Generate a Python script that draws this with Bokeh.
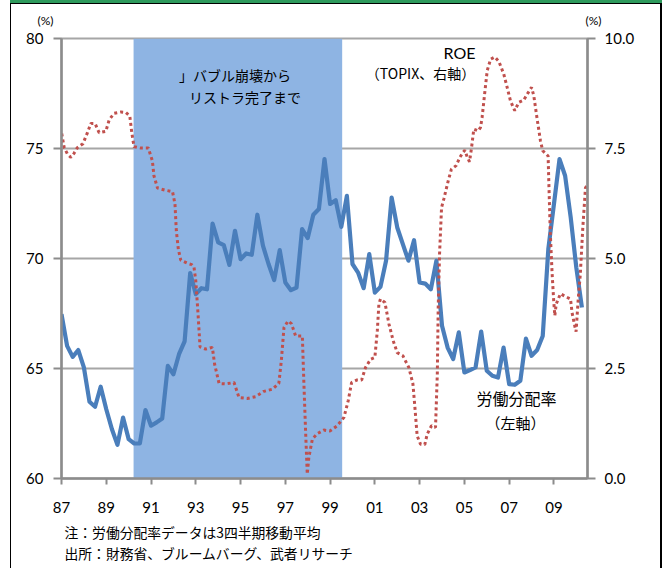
from bokeh.plotting import figure
from bokeh.models import (Range1d, LinearAxis, FixedTicker, PrintfTickFormatter, Label,
                          InlineStyleSheet)
from bokeh.embed import file_html
from bokeh.resources import INLINE

# ---------------- data ----------------
labor_start_year = 1987.0   # first quarter of the series, quarterly steps
labor_share = [
    67.47, 66.03, 65.53, 65.84, 65.05, 63.49, 63.26, 64.17, 63.15, 62.25,
    61.53, 62.77, 61.79, 61.59, 61.59, 63.11, 62.40, 62.55, 62.73, 65.12,
    64.74, 65.65, 66.23, 69.34, 68.38, 68.65, 68.60, 71.59, 70.73, 70.61,
    69.71, 71.26, 69.97, 70.23, 70.17, 71.99, 70.58, 69.75, 69.02, 70.38,
    68.91, 68.56, 68.68, 71.34, 70.93, 71.99, 72.25, 74.52, 72.48, 72.65,
    71.44, 72.85, 69.75, 69.36, 68.65, 70.20, 68.45, 68.71, 69.90, 72.77,
    71.41, 70.65, 69.90, 70.83, 68.91, 68.86, 68.60, 69.90, 66.94, 65.95,
    65.43, 66.64, 64.82, 64.93, 65.05, 66.68, 64.90, 64.67, 64.59, 65.95,
    64.29, 64.26, 64.44, 66.36, 65.58, 65.84, 66.48, 70.43, 72.47, 74.52,
    73.76, 71.86, 69.59, 67.77,
]

roe_year = [
    1987.01, 1987.12, 1987.27, 1987.42, 1987.56, 1987.71, 1987.96, 1988.16, 1988.31, 1988.50,
    1988.68, 1988.98, 1989.13, 1989.35, 1989.65, 1989.87, 1990.05, 1990.14, 1990.24, 1990.54,
    1990.88, 1991.06, 1991.13, 1991.29, 1991.66, 1991.96, 1992.07, 1992.13, 1992.22, 1992.33,
    1992.63, 1992.82, 1992.92, 1993.00, 1993.10, 1993.19, 1993.44, 1993.74, 1993.84, 1994.04,
    1994.33, 1994.71, 1994.93, 1995.30, 1995.67, 1996.04, 1996.42, 1996.71, 1996.82, 1996.94,
    1997.12, 1997.27, 1997.46, 1997.76, 1997.83, 1997.91, 1997.98, 1998.05, 1998.21, 1998.43,
    1998.72, 1998.99, 1999.32, 1999.62, 1999.81, 1999.96, 2000.21, 2000.41, 2000.58, 2000.81,
    2001.00, 2001.11, 2001.18, 2001.25, 2001.45, 2001.63, 2001.82, 2002.00, 2002.25, 2002.52,
    2002.70, 2002.79, 2002.89, 2003.04, 2003.23, 2003.34, 2003.53, 2003.71, 2003.79, 2003.83,
    2003.89, 2003.98, 2004.08, 2004.28, 2004.42, 2004.63, 2004.80, 2004.93, 2005.02, 2005.13,
    2005.23, 2005.32, 2005.42, 2005.62, 2005.72, 2005.79, 2005.91, 2006.02, 2006.17, 2006.36,
    2006.54, 2006.76, 2006.91, 2007.06, 2007.25, 2007.43, 2007.65, 2007.85, 2008.00, 2008.10,
    2008.25, 2008.40, 2008.50, 2008.74, 2008.77, 2008.84, 2008.92, 2008.99, 2009.04, 2009.10,
    2009.29, 2009.54, 2009.74, 2009.81, 2009.93, 2009.99, 2010.08, 2010.18, 2010.29, 2010.41,
    2010.48,
]
roe_value = [
    7.84, 7.52, 7.37, 7.30, 7.39, 7.52, 7.61, 7.86, 8.07, 8.07,
    7.86, 7.89, 8.15, 8.30, 8.33, 8.32, 8.24, 7.86, 7.54, 7.51,
    7.51, 7.22, 6.88, 6.60, 6.55, 6.52, 6.24, 5.63, 5.21, 4.96,
    4.89, 4.86, 4.80, 4.49, 3.74, 2.99, 2.94, 2.98, 2.60, 2.16,
    2.15, 2.18, 1.84, 1.82, 1.86, 1.98, 2.03, 2.16, 2.67, 3.43,
    3.58, 3.52, 3.24, 3.24, 2.15, 1.01, 0.10, 0.48, 0.90, 1.02,
    1.10, 1.08, 1.20, 1.39, 1.77, 2.18, 2.24, 2.24, 2.52, 2.71,
    2.75, 3.36, 3.96, 4.08, 4.00, 3.51, 3.13, 2.86, 2.79, 2.52,
    2.15, 1.61, 0.97, 0.78, 0.77, 1.01, 1.20, 1.16, 2.37, 3.89,
    5.10, 6.16, 6.35, 6.77, 7.03, 7.11, 7.30, 7.41, 7.46, 7.30,
    7.20, 7.52, 7.94, 7.90, 7.98, 8.20, 8.77, 9.27, 9.53, 9.58,
    9.48, 9.19, 8.89, 8.58, 8.36, 8.55, 8.60, 8.77, 8.89, 8.70,
    8.17, 7.67, 7.45, 7.33, 6.77, 5.55, 4.65, 4.04, 3.70, 3.96,
    4.20, 4.13, 4.08, 3.77, 3.47, 3.34, 4.04, 4.65, 5.70, 6.61,
    6.65,
]

shade_start = 1990.22
shade_end = 1999.54

x_tick_years = [1987, 1989, 1991, 1993, 1995, 1997, 1999, 2001, 2003, 2005, 2007, 2009]
x_tick_labels = ["87", "89", "91", "93", "95", "97", "99", "01", "03", "05", "07", "09"]
left_ticks = [60, 65, 70, 75, 80]
right_ticks = [0, 2.5, 5, 7.5, 10]

labor_x = [labor_start_year + 0.25 * i for i in range(len(labor_share))]

# ---------------- styles ----------------
BLUE = "#4a7ebb"
RED = "#c0504d"
SHADE = "#8eb4e3"
AXIS_GRAY = "#8c8c8c"
GRID_GRAY = "#a6a6a6"
LATIN = "Lato"
JP = "Noto Sans CJK JP"

p = figure(width=662, height=568, output_backend="svg", toolbar_location=None,
           x_range=Range1d(1987, 2010.5), y_range=Range1d(60, 80),
           min_border_left=61, min_border_right=75, min_border_top=38, min_border_bottom=90,
           background_fill_color="white", border_fill_color="white")
p.extra_y_ranges = {"roe": Range1d(0, 10)}
p.outline_line_color = GRID_GRAY
p.outline_line_width = 2

# shaded period
p.quad(left=[shade_start], right=[shade_end], bottom=[60], top=[80],
       fill_color=SHADE, line_color=None)

# series
p.line(labor_x, labor_share, line_color=BLUE, line_width=4.2, line_join="round")
p.line(roe_year, roe_value, y_range_name="roe", line_color=RED, line_width=3,
       line_dash="3 3")

# grid
p.xgrid.grid_line_color = None
p.ygrid.ticker = FixedTicker(ticks=left_ticks)
p.ygrid.grid_line_color = GRID_GRAY
p.ygrid.grid_line_width = 2

def style_axis(ax, out):
    ax.axis_line_color = AXIS_GRAY
    ax.axis_line_width = 2.5
    ax.major_tick_line_color = AXIS_GRAY
    ax.major_tick_line_width = 2
    ax.major_tick_in = 0
    ax.major_tick_out = out
    ax.minor_tick_line_color = None
    ax.major_label_text_font = LATIN
    ax.major_label_text_font_size = "15px"
    ax.major_label_text_color = "black"

xa = p.xaxis[0]
style_axis(xa, 6)
xa.ticker = FixedTicker(ticks=x_tick_years)
xa.major_label_overrides = {y: l for y, l in zip(x_tick_years, x_tick_labels)}
xa.major_label_standoff = 17

ya = p.yaxis[0]
style_axis(ya, 8)
ya.ticker = FixedTicker(ticks=left_ticks)
ya.major_label_standoff = 10

ra = LinearAxis(y_range_name="roe", ticker=FixedTicker(ticks=right_ticks),
                formatter=PrintfTickFormatter(format="%.1f"))
style_axis(ra, 8)
ra.major_label_standoff = 9
p.add_layout(ra, "right")

# in-plot texts (data coordinates, left axis)
def dlabel(x, y, text, font, size):
    p.add_layout(Label(x=x, y=y, text=text, text_align="center", text_baseline="middle",
                       text_font=font, text_font_size=size, text_color="black"))

dlabel(1994.75, 78.32, "」バブル崩壊から", JP, "14px")
dlabel(1995.2, 77.32, "リストラ完了まで", JP, "14px")
dlabel(2004.78, 79.38, "ROE", LATIN, "16px")
dlabel(2003.04, 78.41, "（TOPIX、右軸）", JP, "14px")
dlabel(2007.33, 63.64, "労働分配率", JP, "16px")
dlabel(2007.28, 62.56, "（左軸）", JP, "15px")

# texts outside the plot area (canvas coordinates, held in side panels)
def clabel(side, x, y, text, font, size, align="left"):
    p.add_layout(Label(x=x, y=y, x_units="canvas", y_units="canvas", text=text,
                       text_align=align, text_baseline="middle",
                       text_font=font, text_font_size=size, text_color="black"), side)

clabel("left", 45, 20, "(%)", LATIN, "12px", "center")
clabel("right", 593, 20, "(%)", LATIN, "12px", "center")
clabel("below", 64, 531, "注：労働分配率データは3四半期移動平均", JP, "13.8px")
clabel("below", 64, 552, "出所：財務省、ブルームバーグ、武者リサーチ", JP, "13.8px")

# page frame decoration (green band and black border)
p.stylesheets = [InlineStyleSheet(css="""
:host::before { content: ""; position: absolute; left: 10px; top: 0px; width: 652px;
  height: 3px; background: #2e9a5c; z-index: 20; pointer-events: none; }
:host::after { content: ""; position: absolute; left: 10px; top: 3px; width: 652px;
  height: 565px; box-sizing: border-box; border-left: 1.5px solid black;
  border-right: 2px solid black; border-top: 1.5px solid black; z-index: 20;
  pointer-events: none; }
""")]

open("out.html", "w").write(file_html(p, INLINE))
